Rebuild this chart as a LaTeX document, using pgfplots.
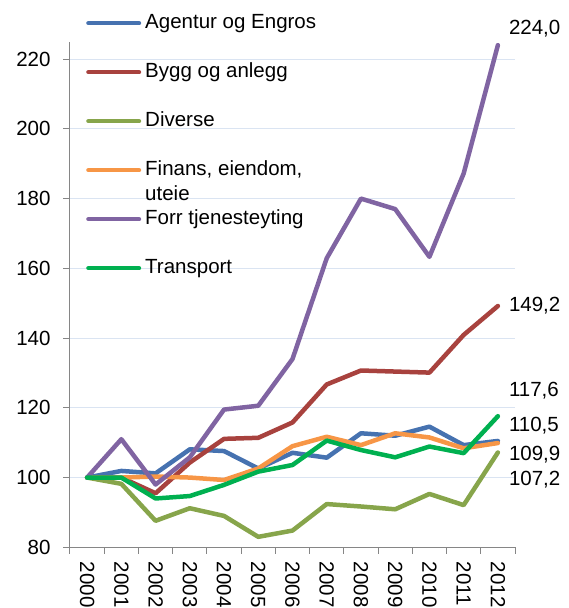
\documentclass[border=0pt]{standalone}
\usepackage{pgfplots}
\pgfplotsset{compat=1.18}
\usepackage{fontspec}
\setmainfont{Liberation Sans}
\definecolor{cAg}{RGB}{70,114,176}
\definecolor{cBy}{RGB}{168,66,62}
\definecolor{cDi}{RGB}{135,165,75}
\definecolor{cFi}{RGB}{247,150,70}
\definecolor{cFo}{RGB}{128,100,162}
\definecolor{cTr}{RGB}{0,176,80}
\definecolor{axgray}{RGB}{134,134,134}
\definecolor{gridb}{RGB}{218,228,242}
\newcommand{\ff}{\fontsize{20.5}{25}\selectfont}
\begin{document}
\begin{tikzpicture}
\begin{axis}[
  width=445pt, height=505.6pt, scale only axis,
  xmin=-0.5, xmax=12.5, ymin=80, ymax=225,
  axis x line*=bottom, axis y line*=left,
  axis line style={draw=axgray, line width=1pt},
  /pgf/number format/assume math mode=true,
  xtick={0,...,12},
  xticklabels={2000,2001,2002,2003,2004,2005,2006,2007,2008,2009,2010,2011,2012},
  minor xtick={-0.5,0.5,...,12.5},
  ytick={80,100,...,220},
  minor ytick={80,100,...,220},
  major tick length=0pt, minor tick length=6.7pt,
  tick align=outside,
  tick style={draw=axgray, line width=1pt},
  ymajorgrids,
  major grid style={draw=gridb, line width=1pt},
  x tick label style={rotate=-90, anchor=west, inner sep=0pt, font=\ff},
  xticklabel shift=14.4pt,
  y tick label style={anchor=east, inner sep=0pt, font=\ff},
  yticklabel shift=19.3pt,
  clip=false,
  legend cell align=left,
  legend image code/.code={\pgfpathrectangle{\pgfpoint{0pt}{-1pt}}{\pgfpoint{59pt}{2pt}}\pgfusepath{use as bounding box}\draw[#1, line width=4.5pt] (2.25pt,0pt) -- (52.75pt,0pt);},
  legend style={draw=none, fill=none, inner sep=0pt,
    at={(axis description cs:0.036,1.0568)}, anchor=north west,
    font=\ff, row sep=29pt, column sep=0pt,
    nodes={inner sep=0pt, text height=15pt, text depth=5pt}},
  every axis plot/.append style={line width=4.5pt, line join=round, line cap=round, no markers},
]
\addplot[cAg] coordinates {(0,100) (1,101.9) (2,101.2) (3,108.1) (4,107.6) (5,102.6) (6,107.1) (7,105.7) (8,112.7) (9,112.0) (10,114.6) (11,109.3) (12,110.5)};
\addlegendentry{Agentur og Engros}
\addplot[cBy] coordinates {(0,100) (1,100) (2,95.5) (3,104.3) (4,111.1) (5,111.4) (6,115.8) (7,126.7) (8,130.7) (9,130.4) (10,130.1) (11,140.9) (12,149.2)};
\addlegendentry{Bygg og anlegg}
\addplot[cDi] coordinates {(0,100) (1,98.2) (2,87.6) (3,91.2) (4,89.0) (5,83.0) (6,84.8) (7,92.4) (8,91.7) (9,90.9) (10,95.3) (11,92.1) (12,107.2)};
\addlegendentry{Diverse}
\addplot[cFi] coordinates {(0,100) (1,100) (2,100.3) (3,100) (4,99.3) (5,102.6) (6,109.0) (7,111.7) (8,109.3) (9,112.7) (10,111.5) (11,108.4) (12,109.9)};
\addlegendentry{\smash{\begin{tabular}[t]{@{}l@{}}Finans, eiendom,\\uteie\end{tabular}}}
\addplot[cFo] coordinates {(0,100) (1,111.0) (2,98.0) (3,105.8) (4,119.5) (5,120.6) (6,134.0) (7,162.9) (8,180.0) (9,177.0) (10,163.3) (11,187.2) (12,224.0)};
\addlegendentry{Forr tjenesteyting}
\addplot[cTr] coordinates {(0,100) (1,100) (2,94.0) (3,94.7) (4,97.9) (5,101.7) (6,103.6) (7,110.6) (8,107.9) (9,105.8) (10,108.9) (11,107.0) (12,117.6)};
\addlegendentry{Transport}
\node[anchor=west, inner sep=0pt, font=\ff] at (axis cs:12.32,228.6) {224,0};
\node[anchor=west, inner sep=0pt, font=\ff] at (axis cs:12.32,149.2) {149,2};
\node[anchor=west, inner sep=0pt, font=\ff] at (axis cs:12.32,124.9) {117,6};
\node[anchor=west, inner sep=0pt, font=\ff] at (axis cs:12.32,114.9) {110,5};
\node[anchor=west, inner sep=0pt, font=\ff] at (axis cs:12.32,106.5) {109,9};
\node[anchor=west, inner sep=0pt, font=\ff] at (axis cs:12.32,99.3) {107,2};
\end{axis}
\pgfresetboundingbox
\path (-70pt,-60.7pt) rectangle (498pt,547.3pt);
\end{tikzpicture}
\end{document}
